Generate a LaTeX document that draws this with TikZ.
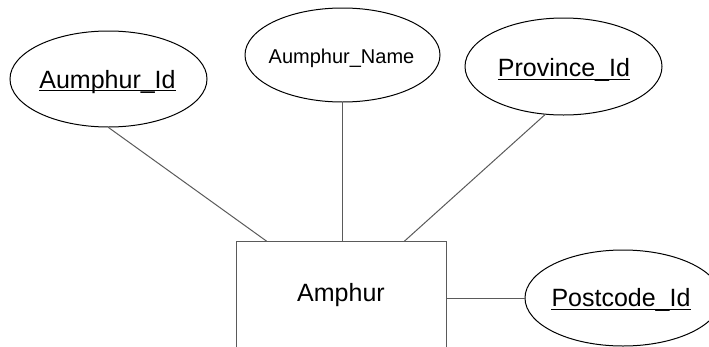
\documentclass[tikz,border=0pt]{standalone}
\usepackage{fontspec}
\setmainfont{Liberation Sans}
\usetikzlibrary{shapes.geometric}
\definecolor{linegray}{RGB}{90,90,90}
\tikzset{
  attr/.style={draw=black, line width=1pt, ellipse, inner sep=0pt},
  lbl/.style={inner sep=0pt, anchor=base, font=\fontsize{25}{30}\selectfont},
  lblsmall/.style={inner sep=0pt, anchor=base, font=\fontsize{20}{24}\selectfont},
  conn/.style={draw=linegray, line width=1pt},
  entity/.style={draw=linegray, line width=1.2pt, rectangle, inner sep=0pt},
  uline/.style={draw=black, line width=1pt}
}
\begin{document}
\begin{tikzpicture}[x=1pt, y=-1pt]
\useasboundingbox (0,0) rectangle (709,346);
% attribute ellipses
\node[attr, minimum width=197pt, minimum height=96pt] (e1) at (108.5,79) {};
\node[attr, minimum width=195pt, minimum height=94pt] (e2) at (342.5,55) {};
\node[attr, minimum width=197pt, minimum height=97pt] (e3) at (563.5,66.5) {};
\node[attr, minimum width=196pt, minimum height=96pt] (e4) at (623,298) {};
% entity
\node[entity, minimum width=210pt, minimum height=130pt] (r) at (341.6,306.7) {};
% labels
\node[lbl] (t1) at (107.5,88) {Aumphur\_Id};
\node[lblsmall] (t2) at (341.5,63.3) {Aumphur\_Name};
\node[lbl] (t3) at (564,76.7) {Province\_Id};
\node[lbl] (t4) at (621,306.7) {Postcode\_Id};
\node[lbl] (t5) at (341,301.7) {Amphur};
% underlines (key attributes)
\draw[uline] ([yshift=-2.5pt]t1.base west) -- ([yshift=-2.5pt]t1.base east);
\draw[uline] ([yshift=-2.5pt]t3.base west) -- ([yshift=-2.5pt]t3.base east);
\draw[uline] ([yshift=-2.5pt]t4.base west) -- ([yshift=-2.5pt]t4.base east);
% connectors
\draw[conn] (e1.south) -- ([xshift=30.5pt]r.north west);
\draw[conn] (e2.south) -- (e2.south |- r.north);
\draw[conn] (e3.249) -- ([xshift=168.5pt]r.north west);
\draw[conn] (e4.west) -- (e4.west -| r.east);
\end{tikzpicture}
\end{document}
